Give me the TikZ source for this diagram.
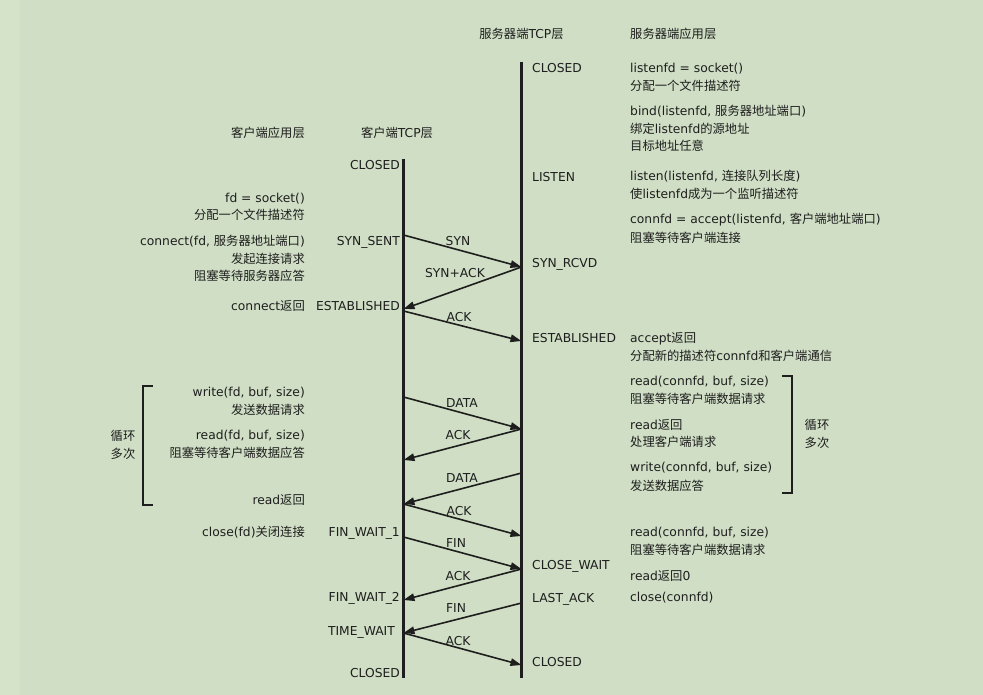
\documentclass[tikz,border=0pt]{standalone}
\usepackage{fontspec}
\setmainfont{DejaVu Sans}
\newfontfamily\zhfont{Noto Sans CJK SC}
\newcommand\zh[1]{{\zhfont #1}}
\usetikzlibrary{arrows.meta}
\definecolor{bg}{HTML}{CFDEC4}
\definecolor{bgl}{HTML}{D5E3C9}
\definecolor{ink}{HTML}{1E1E1E}
\begin{document}
\begin{tikzpicture}[x=1pt,y=-1pt,
  every node/.style={inner sep=0pt, text=ink, font=\fontsize{12.3}{14}\selectfont},
  lt/.style={anchor=base west, yshift=-4.5pt},
  rt/.style={anchor=base east, yshift=-4.5pt},
  ct/.style={anchor=base, yshift=-4.5pt},
  life/.style={draw=ink, line width=2.2pt},
  msg/.style={draw=ink, line width=1.6pt, -{Triangle[length=11pt,width=7.5pt]}},
  brk/.style={draw=ink, line width=1.6pt}]
\useasboundingbox (0,0) rectangle (983,695);
\fill[bg] (0,0) rectangle (983,695);
\fill[bgl] (0,0) rectangle (20,695);

% headers
\node[ct] (hst) at (521.5,34) {\zh{服务器端}TCP\zh{层}};
\node[lt] (hsa) at (630,34) {\zh{服务器端应用层}};
\node[rt] (hca) at (305,133) {\zh{客户端应用层}};
\node[ct] (hct) at (397,133) {\zh{客户端}TCP\zh{层}};

% lifelines
\coordinate (ctop) at (403.5,159);
\coordinate (cbot) at (403.5,678);
\coordinate (stop) at (521.5,62);
\coordinate (sbot) at (521.5,678);
\draw[life] (ctop) -- (cbot);
\draw[life] (stop) -- (sbot);

% client states
\node[rt] (cs1) at (400,165) {CLOSED};
\node[rt] (cs2) at (400,241) {SYN\_SENT};
\node[rt] (cs3) at (400,306) {ESTABLISHED};
\node[rt] (cs4) at (400,532) {FIN\_WAIT\_1};
\node[rt] (cs5) at (400,597) {FIN\_WAIT\_2};
\node[rt] (cs6) at (395,631) {TIME\_WAIT};
\node[rt] (cs7) at (400,673) {CLOSED};

% server states
\node[lt] (ss1) at (532,68) {CLOSED};
\node[lt] (ss2) at (532,177) {LISTEN};
\node[lt] (ss3) at (532,263) {SYN\_RCVD};
\node[lt] (ss4) at (532,338) {ESTABLISHED};
\node[lt] (ss5) at (532,565) {CLOSE\_WAIT};
\node[lt] (ss6) at (532,598) {LAST\_ACK};
\node[lt] (ss7) at (532,662) {CLOSED};

% client application
\node[rt] (ca1) at (305,198) {fd = socket()};
\node[rt] (ca2) at (305,215) {\zh{分配一个文件描述符}};
\node[rt] (ca3) at (305,241) {connect(fd, \zh{服务器地址端口})};
\node[rt] (ca4) at (305,259) {\zh{发起连接请求}};
\node[rt] (ca5) at (305,276) {\zh{阻塞等待服务器应答}};
\node[rt] (ca6) at (305,306) {connect\zh{返回}};
\node[rt] (ca7) at (305,392) {write(fd, buf, size)};
\node[rt] (ca8) at (305,410) {\zh{发送数据请求}};
\node[rt] (ca9) at (305,435) {read(fd, buf, size)};
\node[rt] (ca10) at (305,453) {\zh{阻塞等待客户端数据应答}};
\node[rt] (ca11) at (305,500) {read\zh{返回}};
\node[rt] (ca12) at (305,532) {close(fd)\zh{关闭连接}};

% server application
\node[lt] (sa1) at (630,68) {listenfd = socket()};
\node[lt] (sa2) at (630,86) {\zh{分配一个文件描述符}};
\node[lt] (sa3) at (630,111) {bind(listenfd, \zh{服务器地址端口})};
\node[lt] (sa4) at (630,129) {\zh{绑定}listenfd\zh{的源地址}};
\node[lt] (sa5) at (630,146) {\zh{目标地址任意}};
\node[lt] (sa6) at (630,176) {listen(listenfd, \zh{连接队列长度})};
\node[lt] (sa7) at (630,194) {\zh{使}listenfd\zh{成为一个监听描述符}};
\node[lt] (sa8) at (630,219) {connfd = accept(listenfd, \zh{客户端地址端口})};
\node[lt] (sa9) at (630,238) {\zh{阻塞等待客户端连接}};
\node[lt] (sa10) at (630,338) {accept\zh{返回}};
\node[lt] (sa11) at (630,356) {\zh{分配新的描述符}connfd\zh{和客户端通信}};
\node[lt] (sa12) at (630,381) {read(connfd, buf, size)};
\node[lt] (sa13) at (630,399) {\zh{阻塞等待客户端数据请求}};
\node[lt] (sa14) at (630,425) {read\zh{返回}};
\node[lt] (sa15) at (630,442) {\zh{处理客户端请求}};
\node[lt] (sa16) at (630,467) {write(connfd, buf, size)};
\node[lt] (sa17) at (630,486) {\zh{发送数据应答}};
\node[lt] (sa18) at (630,532) {read(connfd, buf, size)};
\node[lt] (sa19) at (630,550) {\zh{阻塞等待客户端数据请求}};
\node[lt] (sa20) at (630,576) {read\zh{返回}0};
\node[lt] (sa21) at (630,597) {close(connfd)};

% loop brackets
\coordinate (lb1) at (153,386);
\coordinate (lb2) at (143,386);
\coordinate (lb3) at (143,505);
\coordinate (lb4) at (153,505);
\draw[brk] (lb1) -- (lb2) -- (lb3) -- (lb4);
\node[ct] (ll1) at (123,436) {\zh{循环}};
\node[ct] (ll2) at (123,454) {\zh{多次}};
\coordinate (rb1) at (782,376);
\coordinate (rb2) at (792,376);
\coordinate (rb3) at (792,493);
\coordinate (rb4) at (782,493);
\draw[brk] (rb1) -- (rb2) -- (rb3) -- (rb4);
\node[ct] (rl1) at (817,425) {\zh{循环}};
\node[ct] (rl2) at (817,443) {\zh{多次}};

% message endpoints
\coordinate (c1) at (403.5,235);
\coordinate (s1) at (521.5,267);
\coordinate (c2) at (403.5,309);
\coordinate (c3) at (403.5,311);
\coordinate (s3) at (521.5,341);
\coordinate (c4) at (403.5,397);
\coordinate (s4) at (521.5,429);
\coordinate (c5) at (403.5,460);
\coordinate (s6) at (521.5,473);
\coordinate (c6) at (403.5,504);
\coordinate (s7) at (521.5,536);
\coordinate (c8) at (403.5,537);
\coordinate (s8) at (521.5,569);
\coordinate (c9) at (403.5,600);
\coordinate (s10) at (521.5,603);
\coordinate (c10) at (403.5,633);
\coordinate (s11) at (521.5,665);

\draw[msg] (c1) -- (s1);
\draw[msg] (s1) -- (c2);
\draw[msg] (c3) -- (s3);
\draw[msg] (c4) -- (s4);
\draw[msg] (s4) -- (c5);
\draw[msg] (s6) -- (c6);
\draw[msg] (c6) -- (s7);
\draw[msg] (c8) -- (s8);
\draw[msg] (s8) -- (c9);
\draw[msg] (s10) -- (c10);
\draw[msg] (c10) -- (s11);

% message labels
\node[ct] (m1) at (458,241) {SYN};
\node[ct] (m2) at (455,273) {SYN+ACK};
\node[ct] (m3) at (459,317) {ACK};
\node[ct] (m4) at (462,403) {DATA};
\node[ct] (m5) at (458,435) {ACK};
\node[ct] (m6) at (462,478) {DATA};
\node[ct] (m7) at (459,511) {ACK};
\node[ct] (m8) at (456,543) {FIN};
\node[ct] (m9) at (458,576) {ACK};
\node[ct] (m10) at (456,608) {FIN};
\node[ct] (m11) at (458,641) {ACK};
\end{tikzpicture}
\end{document}
